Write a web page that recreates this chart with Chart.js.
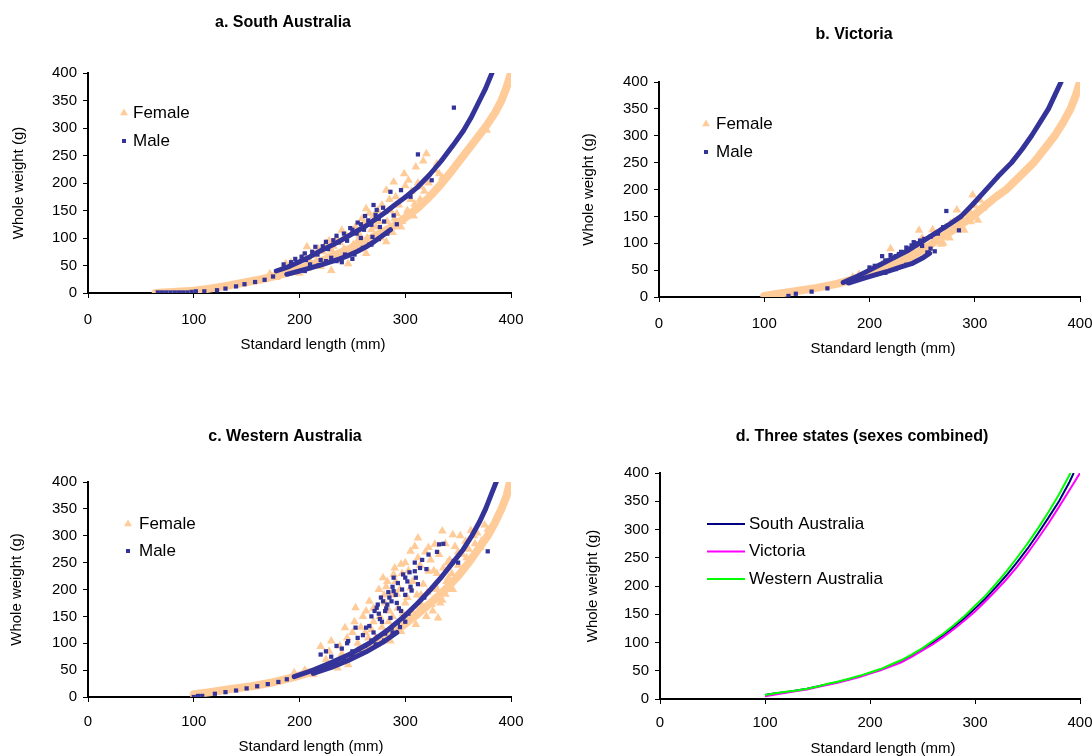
<!DOCTYPE html>
<html lang="en">
<head>
<meta charset="UTF-8" />
<title>Length–weight relationships by state</title>
<script src="https://cdn.jsdelivr.net/npm/chart.js"></script>
<style>
  body { margin: 0; background: #fff; overflow: hidden; width: 1092px; height: 756px; position: relative; }
  canvas { position: absolute; }
  #panelA { left: 0; top: 0; }
  #panelB { left: 546px; top: 0; }
  #panelC { left: 0; top: 378px; }
  #panelD { left: 546px; top: 378px; }
</style>
</head>
<body>
<canvas id="panelA" width="546" height="378"></canvas>
<canvas id="panelB" width="560" height="378"></canvas>
<canvas id="panelC" width="546" height="378"></canvas>
<canvas id="panelD" width="560" height="378"></canvas>
<script>
// [standard length (mm), whole weight (g)]

// a. South Australia
const saFemaleBand = [[64,0],[80,2],[100,4],[115,8],[131,13],[148,19],[164,25],[180,32],[197,42],[212,52],[223,60],[235,70],[248,81],[262,94],[275,107],[289,122],[300,137],[312,155],[322,173],[333,196],[344,222],[356,252],[366,277],[376,302],[385,328],[391,350],[396,375],[400,400]];
const saFemaleSpread = [[172,35],[178,28],[183,40],[187,53],[190,38],[192,55],[195,48],[198,50],[200,36],[203,65],[205,60],[207,84],[208,45],[210,57],[212,68],[215,70],[216,58],[218,80],[220,48],[222,75],[225,90],[226,64],[228,95],[230,41],[230,78],[232,85],[235,100],[236,60],[238,92],[240,114],[240,70],[242,80],[244,105],[246,53],[247,72],[250,110],[251,88],[253,120],[255,95],[257,105],[258,80],[259,135],[261,128],[263,153],[263,72],[264,100],[266,145],[268,115],[270,140],[270,96],[272,120],[274,150],[275,130],[277,100],[278,160],[280,110],[282,187],[282,93],[283,130],[285,170],[286,150],[288,110],[289,202],[290,135],[291,175],[292,144],[294,160],[296,120],[297,130],[299,217],[300,195],[302,150],[303,205],[305,170],[306,185],[308,140],[309,162],[310,229],[312,200],[314,170],[315,193],[317,240],[318,185],[320,253],[322,200],[325,180],[328,223],[330,235],[332,217],[335,210],[377,296]];
const saMaleBand = [[178,40],[190,48],[200,57],[210,66],[220,77],[232,88],[243,100],[252,110],[262,121],[271,133],[280,145],[290,160],[300,174],[312,193],[323,215],[334,240],[345,268],[355,295],[362,318],[369,345],[376,372],[382,400]];
const saMaleLowBand = [[188,34],[200,40],[213,47],[222,52],[230,57],[238,62],[246,68],[255,76],[263,84],[271,94],[279,105],[286,115]];
const saMaleSpread = [[66,1],[70,1],[74,1],[78,1],[82,1],[86,1],[90,1],[94,1],[98,2],[102,3],[110,3],[122,5],[130,8],[140,12],[148,16],[158,20],[167,24],[175,30],[185,52],[192,56],[196,62],[202,66],[205,40],[205,72],[206,60],[210,48],[210,52],[212,75],[215,84],[217,70],[218,50],[220,60],[222,85],[225,58],[225,93],[227,80],[230,64],[232,96],[235,58],[235,104],[237,92],[240,56],[242,108],[243,70],[245,95],[248,118],[250,62],[250,115],[252,70],[254,108],[255,128],[258,100],[258,125],[260,82],[261,115],[262,140],[265,132],[266,88],[268,88],[268,124],[269,102],[270,160],[272,142],[273,151],[275,98],[275,135],[276,120],[279,155],[280,130],[282,148],[283,108],[286,184],[289,141],[292,125],[296,187],[305,175],[312,252],[325,205],[346,337]];

// b. Victoria
const vicFemaleBand = [[100,2],[110,5],[120,8],[134,12],[150,17],[170,25],[190,36],[210,50],[225,62],[240,76],[250,86],[260,100],[272,115],[285,132],[298,150],[310,170],[320,186],[330,200],[343,225],[356,250],[366,275],[376,300],[384,325],[391,350],[396,375],[400,400]];
const vicFemaleSpread = [[184,37],[190,42],[195,38],[200,45],[205,52],[210,46],[212,60],[215,62],[218,55],[220,90],[224,56],[228,70],[230,66],[235,85],[236,78],[240,72],[242,85],[244,70],[245,95],[247,124],[248,90],[250,110],[252,98],[255,92],[256,85],[260,115],[260,125],[262,108],[265,105],[266,118],[268,98],[270,100],[272,128],[275,120],[276,110],[277,137],[280,125],[280,140],[283,162],[284,130],[285,140],[288,145],[290,124],[292,155],[295,160],[296,140],[298,190],[300,170],[303,143],[305,180],[308,165]];
const vicMaleBand = [[175,27],[190,40],[200,50],[210,60],[223,73],[237,87],[250,103],[262,118],[275,134],[287,150],[298,172],[310,198],[322,224],[335,250],[345,275],[354,300],[362,325],[370,350],[376,375],[382,400]];
const vicMaleLowBand = [[180,26],[195,35],[207,42],[218,48],[230,56],[240,62],[250,72],[257,81]];
const vicMaleSpread = [[123,2],[130,6],[145,10],[160,16],[200,55],[205,58],[212,76],[215,45],[215,68],[220,78],[225,52],[225,76],[228,80],[230,84],[235,60],[235,92],[238,90],[240,96],[242,102],[245,100],[248,105],[250,95],[252,108],[255,83],[258,90],[258,112],[262,85],[265,118],[270,130],[273,160],[285,124]];

// c. Western Australia
const waFemaleBand = [[100,5],[115,9],[135,15],[155,20],[174,27],[195,37],[220,52],[240,67],[258,83],[276,102],[292,124],[309,150],[324,175],[338,200],[350,225],[360,250],[369,275],[378,300],[385,325],[391,350],[396,375],[399,400]];
const waFemaleSpread = [[195,45],[205,50],[213,42],[220,94],[225,70],[228,85],[230,104],[232,62],[236,54],[238,95],[240,80],[243,129],[245,110],[246,60],[248,75],[250,120],[252,140],[253,166],[255,100],[256,90],[258,130],[260,150],[262,120],[263,160],[265,110],[266,178],[268,125],[270,140],[270,165],[272,110],[273,97],[275,200],[276,150],[278,130],[279,222],[280,190],[281,175],[282,205],[283,215],[284,140],[285,160],[286,104],[287,190],[288,150],[289,228],[290,240],[291,215],[292,191],[293,165],[295,200],[296,122],[296,247],[297,230],[298,155],[299,141],[300,175],[300,250],[302,185],[303,235],[305,203],[305,271],[306,160],[307,215],[309,280],[310,135],[311,190],[312,160],[312,259],[312,296],[314,245],[315,190],[316,170],[317,210],[318,166],[319,270],[320,150],[321,195],[322,234],[322,278],[324,255],[325,172],[326,160],[327,235],[328,209],[328,284],[330,200],[330,230],[331,147],[332,265],[333,175],[335,180],[335,309],[336,240],[338,191],[338,285],[339,215],[340,250],[341,222],[342,255],[344,230],[345,200],[345,302],[347,280],[348,222],[350,245],[350,270],[352,300],[354,265],[355,240],[357,290],[358,259],[360,275],[362,310],[365,300],[366,285],[368,305],[371,278],[372,290],[375,320],[378,312],[380,310]];
const waMaleBand = [[195,38],[213,50],[230,64],[248,80],[266,100],[283,124],[299,150],[312,175],[324,200],[335,225],[345,250],[355,275],[363,300],[370,325],[376,350],[381,375],[386,400]];
const waMaleLowBand = [[213,44],[230,55],[246,68],[263,84],[279,102],[292,120]];
const waMaleSpread = [[100,0],[104,2],[108,2],[120,6],[130,9],[140,12],[150,16],[160,20],[170,24],[180,28],[188,33],[220,79],[225,85],[230,75],[235,62],[235,95],[240,90],[242,70],[245,100],[246,104],[250,78],[250,85],[253,129],[255,110],[256,88],[260,115],[262,95],[263,129],[266,132],[268,105],[268,150],[270,120],[271,160],[272,98],[273,166],[274,112],[274,172],[275,155],[276,145],[277,185],[278,140],[279,178],[280,105],[281,118],[281,160],[282,165],[283,172],[284,195],[285,185],[286,147],[287,128],[287,178],[288,120],[288,205],[289,197],[289,222],[291,190],[292,175],[293,138],[293,212],[294,165],[295,130],[296,160],[297,200],[298,148],[298,228],[300,140],[300,190],[300,222],[302,215],[303,155],[304,232],[305,205],[306,198],[309,234],[309,250],[310,222],[312,210],[314,240],[316,255],[318,185],[320,238],[322,265],[330,270],[332,284],[336,285],[346,253],[350,250],[378,271]];

// d. Three states, sexes combined
const saCombined = [[100,7],[110,10],[120,12],[130,15],[140,18],[150,22],[160,26],[170,30],[180,35],[190,40],[200,46],[210,52],[220,59],[230,67],[240,77],[250,88],[260,100],[270,113],[280,128],[290,143],[300,160],[310,178],[320,198],[330,219],[340,242],[350,266],[360,293],[370,321],[380,350],[390,384],[394,400]];
const vicCombined = [[100,5],[110,8],[120,11],[130,14],[140,17],[150,21],[160,25],[170,29],[180,34],[190,39],[200,45],[210,51],[220,58],[230,65],[240,75],[250,86],[260,97],[270,110],[280,124],[290,139],[300,155],[310,173],[320,192],[330,212],[340,234],[350,258],[360,284],[370,311],[380,340],[390,370],[400,400]];
const waCombined = [[100,7],[110,10],[120,13],[130,15],[140,18],[150,22],[160,27],[170,31],[180,36],[190,41],[200,47],[210,53],[220,61],[230,69],[240,79],[250,90],[260,103],[270,116],[280,131],[290,147],[300,165],[310,183],[320,204],[330,226],[340,250],[350,275],[360,302],[370,331],[380,362],[391,400]];

const PEACH = '#FFCC99';
const NAVY = '#333399';
const FONT = '"Liberation Sans", Arial, sans-serif';

Chart.defaults.font.family = FONT;
Chart.defaults.color = '#000';

const pts = arr => arr.map(([x, y]) => ({ x, y }));

function female(data, band) {
  return {
    label: 'Female', data: pts(data), pointStyle: 'triangle',
    backgroundColor: PEACH, borderColor: PEACH, pointBorderWidth: 0,
    pointRadius: band ? 4 : 5, showLine: band, borderWidth: band ? 8 : 0,
    borderJoinStyle: 'round', borderCapStyle: 'round', order: band ? 3 : 2
  };
}

function male(data, band) {
  return {
    label: 'Male', data: pts(data), pointStyle: 'rect',
    backgroundColor: NAVY, borderColor: NAVY, pointBorderWidth: 0,
    pointRadius: band ? 2.4 : 3, showLine: band, borderWidth: band ? 5 : 0,
    borderJoinStyle: 'round', borderCapStyle: 'round', order: band ? 0 : 1
  };
}

function stateLine(label, data, colour, order) {
  return {
    label, data: pts(data), showLine: true, borderColor: colour, backgroundColor: colour,
    borderWidth: 2, pointRadius: 0, order
  };
}

// legend key for one dataset
function drawKey(ctx, ds, x, y) {
  ctx.fillStyle = ds.backgroundColor;
  ctx.strokeStyle = ds.borderColor;
  if (ds.pointStyle === 'triangle') {
    const r = 4.5;
    ctx.beginPath();
    ctx.moveTo(x, y - r);
    ctx.lineTo(x + r * 0.87, y + r / 2);
    ctx.lineTo(x - r * 0.87, y + r / 2);
    ctx.closePath();
    ctx.fill();
  } else if (ds.pointStyle === 'rect') {
    ctx.fillRect(x - 2, y - 2, 4, 4);
  } else {
    ctx.lineWidth = 2;
    ctx.beginPath();
    ctx.moveTo(x, y);
    ctx.lineTo(x + 38, y);
    ctx.stroke();
  }
}

// panel title, x-axis title and the legend inside the plot
const captionPlugin = {
  id: 'captions',
  afterDraw(chart, args, o) {
    const ctx = chart.ctx;
    ctx.save();
    ctx.fillStyle = '#000';
    ctx.textAlign = 'center';
    ctx.textBaseline = 'middle';
    ctx.font = 'bold 16px ' + FONT;
    ctx.fillText(o.title, o.titleAt[0], o.titleAt[1]);
    ctx.font = '15px ' + FONT;
    ctx.fillText('Standard length (mm)', o.xTitleAt[0], o.xTitleAt[1]);
    ctx.font = '17px ' + FONT;
    ctx.textAlign = 'left';
    o.keys.forEach((idx, i) => {
      const ds = chart.data.datasets[idx];
      const y = o.keyAt[1] + i * o.keyGap;
      drawKey(ctx, ds, o.keyAt[0], y);
      ctx.fillStyle = '#000';
      ctx.fillText(ds.label, o.textX, y);
    });
    ctx.restore();
  }
};

function panel(id, datasets, box, captions) {
  return new Chart(document.getElementById(id), {
    type: 'scatter',
    data: { datasets },
    options: {
      responsive: false,
      animation: false,
      events: [],
      layout: { padding: { top: box.top, right: box.right, left: 0, bottom: 0 } },
      scales: {
        x: {
          type: 'linear', min: 0, max: 400,
          ticks: { stepSize: 100, padding: box.xTickPad, font: { size: 15 }, maxRotation: 0 },
          grid: { drawOnChartArea: false, tickLength: 5, color: '#000', lineWidth: 1 },
          border: { color: '#000', width: 2 },
          afterFit: s => { s.height = box.xHeight; }
        },
        y: {
          type: 'linear', min: 0, max: 400,
          ticks: { stepSize: 50, padding: 6, font: { size: 15 } },
          grid: { drawOnChartArea: false, tickLength: 5, color: '#000', lineWidth: 1 },
          border: { color: '#000', width: 2 },
          title: { display: true, text: 'Whole weight (g)', font: { size: 15 }, padding: { top: box.yTitlePad, bottom: 0 } },
          afterFit: s => { s.width = box.yWidth; }
        }
      },
      plugins: {
        legend: { display: false },
        tooltip: { enabled: false },
        captions
      }
    },
    plugins: [captionPlugin]
  });
}

panel('panelA',
  [female(saFemaleSpread, false), male(saMaleSpread, false),
   female(saFemaleBand, true), male(saMaleBand, true), male(saMaleLowBand, true)],
  { top: 73, right: 35, yWidth: 88, xHeight: 85, xTickPad: 13, yTitlePad: 10 },
  { title: 'a. South Australia', titleAt: [283, 23], xTitleAt: [313, 345],
    keys: [0, 1], keyAt: [124, 113], keyGap: 28, textX: 133 });

panel('panelB',
  [female(vicFemaleSpread, false), male(vicMaleSpread, false),
   female(vicFemaleBand, true), male(vicMaleBand, true), male(vicMaleLowBand, true)],
  { top: 82, right: 26, yWidth: 113, xHeight: 81, xTickPad: 13, yTitlePad: 34 },
  { title: 'b. Victoria', titleAt: [308, 35], xTitleAt: [337, 349],
    keys: [0, 1], keyAt: [160, 124], keyGap: 28, textX: 170 });

panel('panelC',
  [female(waFemaleSpread, false), male(waMaleSpread, false),
   female(waFemaleBand, true), male(waMaleBand, true), male(waMaleLowBand, true)],
  { top: 104, right: 35, yWidth: 88, xHeight: 59, xTickPad: 11, yTitlePad: 8 },
  { title: 'c. Western Australia', titleAt: [285, 59], xTitleAt: [311, 369],
    keys: [0, 1], keyAt: [128, 146], keyGap: 27, textX: 139 });

panel('panelD',
  [stateLine('South Australia', saCombined, '#000080', 2),
   stateLine('Victoria', vicCombined, '#FF00FF', 1),
   stateLine('Western Australia', waCombined, '#00FF00', 0)],
  { top: 95, right: 26, yWidth: 114, xHeight: 57, xTickPad: 10, yTitlePad: 38 },
  { title: 'd. Three states (sexes combined)', titleAt: [316, 59], xTitleAt: [337, 371],
    keys: [0, 1, 2], keyAt: [161, 146], keyGap: 27.5, textX: 203 });
</script>
</body>
</html>
